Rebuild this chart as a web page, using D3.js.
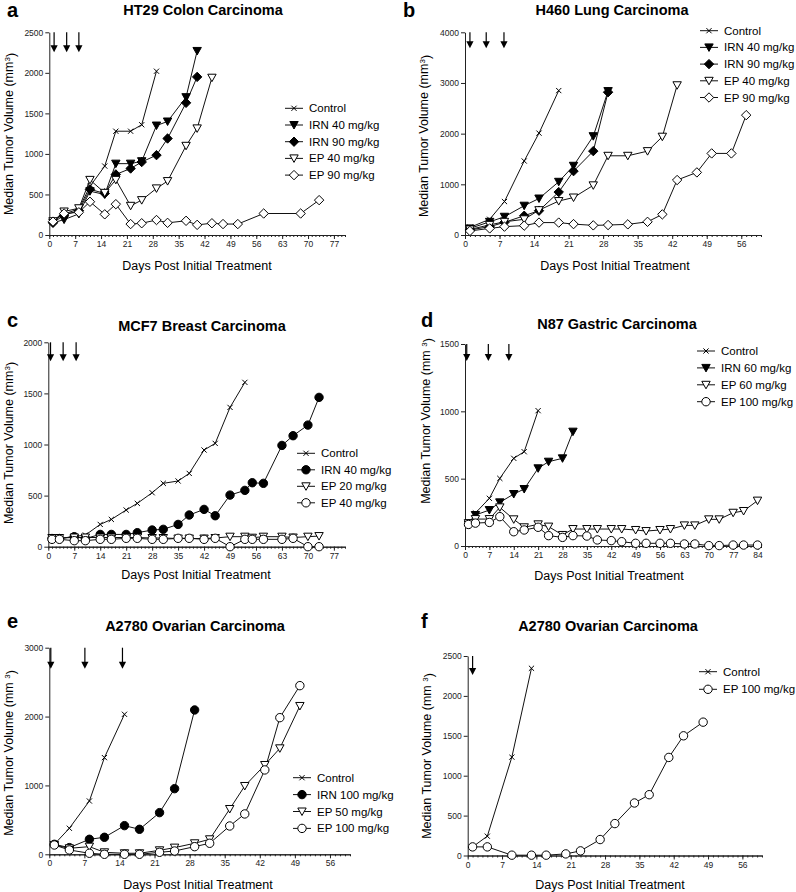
<!DOCTYPE html>
<html>
<head>
<meta charset="utf-8">
<script src="https://cdn.jsdelivr.net/npm/d3@7"></script>
<style>
  body { margin: 0; background: #fff; }
  svg { font-family: 'Liberation Sans', Arial, sans-serif; }
  .axis .domain, .axis line { stroke: #222; stroke-width: 1; }
  .axis text { font-size: 8.5px; fill: #222; }
</style>
</head>
<body>
<div class="chart"></div>
<script>
// ============================================================================
// Data (median tumor volume, mm3, by day post initial treatment)
// ============================================================================

// a: HT29 colon
var htDays = [1, 4, 8, 11, 15, 18, 22, 25, 29, 32, 37, 40, 44, 47, 51, 58, 68, 73];
var htControl = [180, 260, 320, 600, 850, 1280, 1280, 1360, 2020];
var htIrn40 = [150, 190, 260, 540, 500, 880, 880, 910, 1350, 1400, 1700, 2270];
var htIrn90 = [150, 245, 300, 563, 513, 747, 820, 900, 985, 1190, 1630, 1950];
var htEp40 = [170, 290, 330, 680, 520, 680, 360, 430, 575, 665, 1100, 1315, 1940];
var htEp90 = [165, 265, 280, 410, 255, 380, 135, 145, 185, 150, 175, 125, 145, 135, 135, 265, 265, 430];
var htDoses = [1.3, 4.7, 8];

// b: H460 lung
var h460Days = [1, 5, 8, 12, 15, 19, 22, 26, 29, 33, 37, 40, 43, 47, 50, 54, 57];
var h460Control = [150, 310, 660, 1460, 2010, 2850];
var h460Irn40 = [130, 260, 360, 578, 720, 1050, 1366, 1950, 2840];
var h460Irn90 = [100, 165, 250, 380, 480, 847, 1260, 1655, 2818];
var h460Ep40 = [110, 200, 260, 310, 490, 670, 740, 980, 1563, 1563, 1655, 1940, 2955];
var h460Ep90 = [80, 130, 165, 185, 245, 245, 215, 190, 197, 210, 260, 407, 1085, 1235, 1610, 1610, 2365];
var h460Doses = [1, 4.3, 7.9];

// c: MCF7 breast
var mcfDays = [1, 3, 7, 10, 14, 17, 21, 24, 28, 31, 35, 38, 42, 45, 49, 53, 55, 58, 63, 66, 70, 73];
var mcfControl = [80, 80, 100, 114, 218, 267, 359, 424, 528, 620, 643, 717, 946, 1011, 1363, 1608];
var mcfIrn40 = [80, 80, 98, 80, 120, 120, 120, 137, 163, 170, 218, 310, 365, 303, 505, 551, 626, 620, 991, 1086, 1190, 1461];
var mcfEp20 = [85, 85, 90, 90, 90, 90, 90, 90, 85, 85, 80, 80, 80, 85, 98, 98, 88, 98, 98, 90, 98, 104];
var mcfEp40 = [72, 72, 59, 59, 72, 72, 82, 82, 72, 72, 82, 82, 72, 82, 0, 72, 72, 72, 72, 82, 0, 0];
var mcfDoses = [0.6, 4, 7.5];

// d: N87 gastric
var n87Days = [1, 3, 7, 10, 14, 17, 21, 24, 28, 31, 35, 38, 42, 45, 49, 52, 56, 59, 63, 66, 70, 73, 77, 80, 84];
var n87Control = [160, 245, 354, 502, 651, 700, 1005];
var n87Irn60 = [160, 230, 267, 324, 386, 423, 577, 626, 651, 849];
var n87Ep60 = [170, 200, 200, 287, 198, 139, 161, 144, 82, 126, 126, 126, 126, 126, 119, 111, 119, 126, 153, 153, 198, 198, 247, 260, 337];
var n87Ep100 = [160, 170, 175, 218, 106, 119, 139, 77, 64, 77, 74, 45, 40, 32, 20, 20, 20, 20, 15, 15, 3, 3, 7, 7, 7];
var n87Doses = [0.5, 6.7, 12.6];

// e: A2780 ovarian
var a2780Days = [1, 4, 8, 11, 15, 18, 22, 25, 29, 32, 36, 39, 43, 46, 50];
var a2780Control = [145, 378, 774, 1404, 2033];
var a2780Irn100 = [145, 97, 218, 247, 416, 363, 605, 953, 2096];
var a2780Ep50 = [135, 87, 111, 29, 15, 15, 58, 97, 160, 218, 658, 992, 1297, 1539, 2154];
var a2780Ep100 = [135, 63, 15, 0, 0, 0, 29, 48, 111, 160, 411, 586, 1225, 1984, 2449];
var a2780Doses = [0.3, 7.1, 14.6];

// f: A2780 ovarian, single dose
var a2780bDays = [1, 4, 9, 13, 16, 20, 23, 27, 30, 34, 37, 41, 44, 48];
var a2780bControl = [108, 242, 1233, 2346];
var a2780bEp100 = [108, 108, 4, 4, 4, 20, 58, 200, 400, 658, 762, 1229, 1500, 1671];
var a2780bDoses = [1];

// ============================================================================
// Panel layout
// ============================================================================

var panels = [
  {
    letter: 'a', title: 'HT29 Colon Carcinoma', days: htDays, doses: htDoses,
    series: [
      { name: 'Control', values: htControl, marker: 'x' },
      { name: 'IRN 40 mg/kg', values: htIrn40, marker: 'tri', fill: '#000' },
      { name: 'IRN 90 mg/kg', values: htIrn90, marker: 'diamond', fill: '#000' },
      { name: 'EP 40 mg/kg', values: htEp40, marker: 'tri', fill: '#fff' },
      { name: 'EP 90 mg/kg', values: htEp90, marker: 'diamond', fill: '#fff' }
    ],
    xMax: 80, xTickMax: 77, yMax: 2500, yStep: 500,
    left: 49.3, right: 345, top: 32.3, bottom: 235, arrowLen: 20,
    letterPos: [7, 16.7], titlePos: [203, 15],
    xLabelPos: [197, 270], yLabelPos: [9, 134], supSpace: false,
    legend: { x: 285, y: 108.3, dy: 16.7 }
  },
  {
    letter: 'b', title: 'H460 Lung Carcinoma', days: h460Days, doses: h460Doses,
    series: [
      { name: 'Control', values: h460Control, marker: 'x' },
      { name: 'IRN 40 mg/kg', values: h460Irn40, marker: 'tri', fill: '#000' },
      { name: 'IRN 90 mg/kg', values: h460Irn90, marker: 'diamond', fill: '#000' },
      { name: 'EP 40 mg/kg', values: h460Ep40, marker: 'tri', fill: '#fff' },
      { name: 'EP 90 mg/kg', values: h460Ep90, marker: 'diamond', fill: '#fff' }
    ],
    xMax: 60, xTickMax: 56, yMax: 4000, yStep: 1000,
    left: 465, right: 761, top: 32.3, bottom: 235, arrowLen: 16,
    letterPos: [403, 16.5], titlePos: [612, 15],
    xLabelPos: [615, 270], yLabelPos: [424, 136], supSpace: false,
    legend: { x: 700, y: 30.7, dy: 16.7 }
  },
  {
    letter: 'c', title: 'MCF7 Breast Carcinoma', days: mcfDays, doses: mcfDoses,
    series: [
      { name: 'Control', values: mcfControl, marker: 'x' },
      { name: 'IRN 40 mg/kg', values: mcfIrn40, marker: 'circle', fill: '#000' },
      { name: 'EP 20 mg/kg', values: mcfEp20, marker: 'tri', fill: '#fff' },
      { name: 'EP 40 mg/kg', values: mcfEp40, marker: 'circle', fill: '#fff' }
    ],
    xMax: 80, xTickMax: 77, yMax: 2000, yStep: 500,
    left: 48.3, right: 345, top: 342.3, bottom: 546.7, arrowLen: 19,
    letterPos: [7, 327], titlePos: [202, 330.7],
    xLabelPos: [196, 579], yLabelPos: [9, 443], supSpace: false,
    legend: { x: 297, y: 453.3, dy: 16.5 }
  },
  {
    letter: 'd', title: 'N87 Gastric Carcinoma', days: n87Days, doses: n87Doses,
    series: [
      { name: 'Control', values: n87Control, marker: 'x' },
      { name: 'IRN 60 mg/kg', values: n87Irn60, marker: 'tri', fill: '#000' },
      { name: 'EP 60 mg/kg', values: n87Ep60, marker: 'tri', fill: '#fff' },
      { name: 'EP 100 mg/kg', values: n87Ep100, marker: 'circle', fill: '#fff' }
    ],
    xMax: 85, xTickMax: 84, yMax: 1500, yStep: 500,
    left: 465, right: 761, top: 344, bottom: 546, arrowLen: 17,
    letterPos: [421, 326.7], titlePos: [617, 329],
    xLabelPos: [609, 580], yLabelPos: [426, 421], supSpace: true,
    legend: { x: 697, y: 351, dy: 16.9 }
  },
  {
    letter: 'e', title: 'A2780 Ovarian Carcinoma', days: a2780Days, doses: a2780Doses,
    series: [
      { name: 'Control', values: a2780Control, marker: 'x' },
      { name: 'IRN 100 mg/kg', values: a2780Irn100, marker: 'circle', fill: '#000' },
      { name: 'EP 50 mg/kg', values: a2780Ep50, marker: 'tri', fill: '#fff' },
      { name: 'EP 100 mg/kg', values: a2780Ep100, marker: 'circle', fill: '#fff' }
    ],
    xMax: 60, xTickMax: 56, yMax: 3000, yStep: 1000,
    left: 49.3, right: 350, top: 647.7, bottom: 854.3, arrowLen: 21,
    letterPos: [7, 628], titlePos: [195, 630.7],
    xLabelPos: [198, 889], yLabelPos: [9, 753], supSpace: true,
    legend: { x: 293, y: 777.7, dy: 16.9 }
  },
  {
    letter: 'f', title: 'A2780 Ovarian Carcinoma', days: a2780bDays, doses: a2780bDoses,
    series: [
      { name: 'Control', values: a2780bControl, marker: 'x' },
      { name: 'EP 100 mg/kg', values: a2780bEp100, marker: 'circle', fill: '#fff' }
    ],
    xMax: 60, xTickMax: 56, yMax: 2500, yStep: 500,
    left: 467.7, right: 762, top: 656, bottom: 855.5, arrowLen: 19,
    letterPos: [421, 627.7], titlePos: [608, 630.7],
    xLabelPos: [610, 889], yLabelPos: [427, 756], supSpace: true,
    legend: { x: 699, y: 671.7, dy: 17.6 }
  }
];

// ============================================================================
// Create SVG
// ============================================================================

var svg = d3.select('.chart')
  .append('svg')
  .attr('width', 796)
  .attr('height', 892);

panels.forEach(drawPanel);

// ============================================================================
// Helper Functions
// ============================================================================

// path for a marker centred on 0,0
function markerPath(type) {
  if (type === 'x') return 'M-2.6,-2.6L2.6,2.6M-2.6,2.6L2.6,-2.6';
  if (type === 'tri') return 'M-4.2,-3.5L4.2,-3.5L0,4Z';
  if (type === 'diamond') return 'M0,-4.7L4.7,0L0,4.7L-4.7,0Z';
  return d3.arc()({ innerRadius: 0, outerRadius: 4.2, startAngle: 0, endAngle: 2 * Math.PI });
}

function drawMarker(sel, s) {
  sel.append('path')
    .attr('d', markerPath(s.marker))
    .attr('fill', s.marker === 'x' ? 'none' : s.fill)
    .attr('stroke', '#000')
    .attr('stroke-width', 1);
}

function drawPanel(p) {
  var g = svg.append('g');

  var x = d3.scaleLinear().domain([0, p.xMax]).range([p.left, p.right]);
  var y = d3.scaleLinear().domain([0, p.yMax]).range([p.bottom, p.top]);

  // minor x ticks, one per day
  g.append('g')
    .classed('axis', true)
    .attr('transform', `translate(0, ${p.bottom})`)
    .call(d3.axisBottom(x)
      .tickValues(d3.range(0, p.xMax + 1))
      .tickSize(2)
      .tickSizeOuter(0)
      .tickFormat(''));

  // major x ticks, weekly
  g.append('g')
    .classed('axis', true)
    .attr('transform', `translate(0, ${p.bottom})`)
    .call(d3.axisBottom(x)
      .tickValues(d3.range(0, p.xTickMax + 1, 7))
      .tickSize(4)
      .tickSizeOuter(0)
      .tickPadding(2));

  // y axis
  g.append('g')
    .classed('axis', true)
    .attr('transform', `translate(${p.left}, 0)`)
    .call(d3.axisLeft(y)
      .tickValues(d3.range(0, p.yMax + 1, p.yStep))
      .tickFormat(d3.format('d'))
      .tickSize(4)
      .tickSizeOuter(0)
      .tickPadding(2));

  // panel letter and title
  g.append('text')
    .attr('x', p.letterPos[0])
    .attr('y', p.letterPos[1])
    .attr('font-size', 20)
    .attr('font-weight', 'bold')
    .text(p.letter);

  g.append('text')
    .attr('x', p.titlePos[0])
    .attr('y', p.titlePos[1])
    .attr('text-anchor', 'middle')
    .attr('font-size', 14.5)
    .attr('font-weight', 'bold')
    .text(p.title);

  // axis titles
  g.append('text')
    .attr('x', p.xLabelPos[0])
    .attr('y', p.xLabelPos[1])
    .attr('text-anchor', 'middle')
    .attr('font-size', 12.5)
    .text('Days Post Initial Treatment');

  var yLabel = g.append('text')
    .attr('transform', `translate(${p.yLabelPos[0]}, ${p.yLabelPos[1]}) rotate(-90)`)
    .attr('text-anchor', 'middle')
    .attr('dy', '0.35em')
    .attr('font-size', 12.5);
  yLabel.append('tspan').text(p.supSpace ? 'Median Tumor Volume (mm ' : 'Median Tumor Volume (mm');
  yLabel.append('tspan').attr('dy', '-0.45em').attr('font-size', 8).text('3');
  yLabel.append('tspan').attr('dy', '0.45em').text(')');

  // dosing arrows
  p.doses.forEach(function(d) {
    var ax = x(d);
    g.append('line')
      .attr('x1', ax).attr('x2', ax)
      .attr('y1', p.top).attr('y2', p.top + p.arrowLen - 6)
      .attr('stroke', '#000')
      .attr('stroke-width', 1.2);
    g.append('path')
      .attr('d', `M${ax - 3.6},${p.top + p.arrowLen - 7}L${ax + 3.6},${p.top + p.arrowLen - 7}L${ax},${p.top + p.arrowLen}Z`)
      .attr('fill', '#000');
  });

  var line = d3.line()
    .x(d => x(d.day))
    .y(d => y(d.v));

  var seriesData = p.series.map(function(s) {
    return s.values.map((v, i) => ({ day: p.days[i], v: v }));
  });

  // lines first, markers on top
  seriesData.forEach(function(pts) {
    g.append('path')
      .datum(pts)
      .attr('d', line)
      .attr('fill', 'none')
      .attr('stroke', '#111')
      .attr('stroke-width', 1);
  });

  seriesData.forEach(function(pts, k) {
    var s = p.series[k];
    g.selectAll(null)
      .data(pts)
      .enter()
        .append('g')
        .attr('transform', d => `translate(${x(d.day)}, ${y(d.v)})`)
        .each(function() { drawMarker(d3.select(this), s); });
  });

  // legend
  p.series.forEach(function(s, i) {
    var ly = p.legend.y + i * p.legend.dy;
    var lg = g.append('g').attr('transform', `translate(${p.legend.x}, ${ly})`);
    lg.append('line')
      .attr('x1', 0).attr('x2', 18)
      .attr('stroke', '#111')
      .attr('stroke-width', 1);
    drawMarker(lg.append('g').attr('transform', 'translate(9, 0)'), s);
    lg.append('text')
      .attr('x', 24)
      .attr('dy', '0.35em')
      .attr('font-size', 11.5)
      .text(s.name);
  });
}
</script>
</body>
</html>
